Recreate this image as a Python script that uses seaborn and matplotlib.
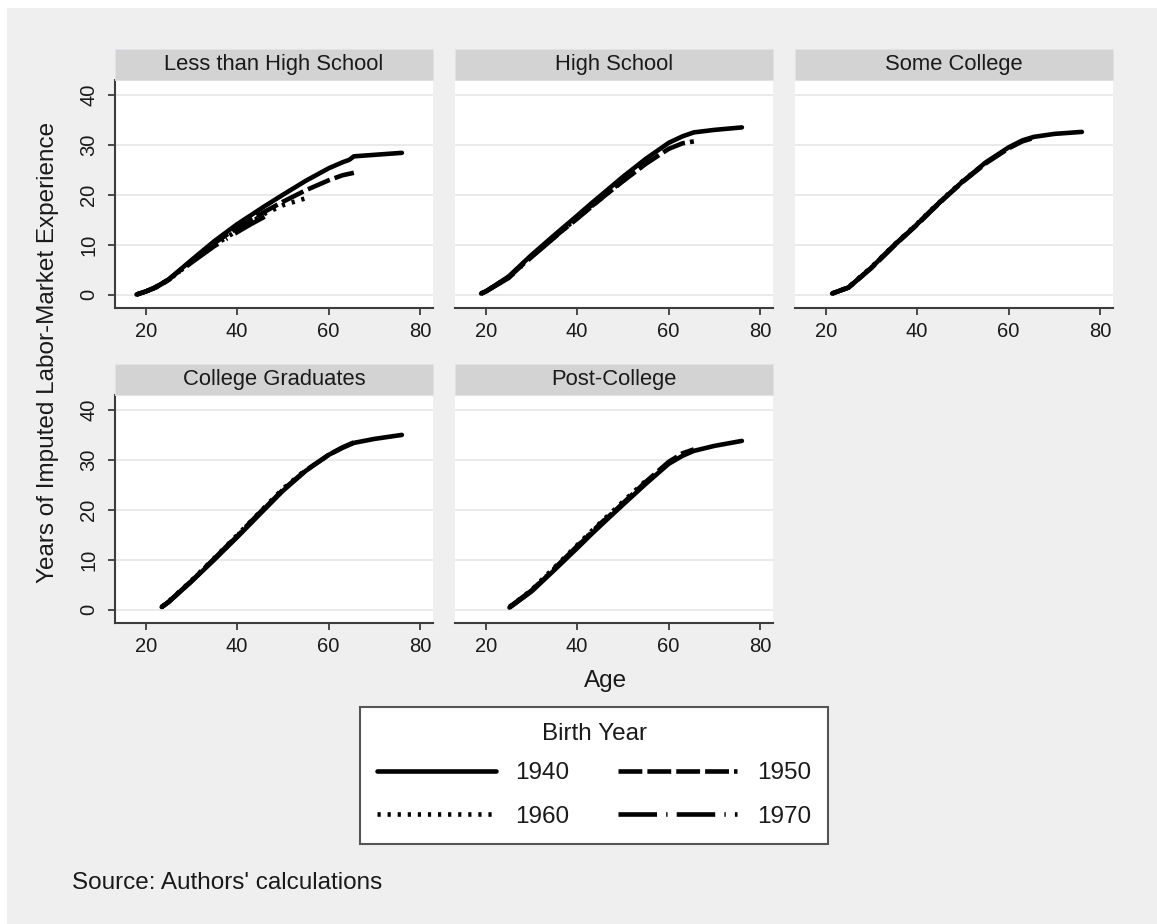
import pandas as pd
import matplotlib
matplotlib.use('Agg')
import matplotlib.pyplot as plt
from matplotlib.patches import Rectangle
from matplotlib.lines import Line2D
import seaborn as sns

# Panels and cohorts
panels = ['Less than High School', 'High School', 'Some College', 'College Graduates', 'Post-College']
cohorts = ['1940', '1950', '1960', '1970']

# Less than High School
ages_lths = [18, 20, 22, 25, 30, 35, 40, 43, 46, 50, 55, 60, 63, 64.5, 65.5, 70, 76]
lths_1940 = [0.0, 0.6, 1.4, 3.0, 6.9, 10.7, 14.1, 15.9, 17.7, 20.0, 22.8, 25.3, 26.5, 27.0, 27.7, 28.0, 28.4]
lths_1950 = [0.0, 0.6, 1.4, 3.0, 6.7, 10.3, 13.4, 15.0, 16.6, 18.6, 20.9, 22.9, 23.9, 24.2, 24.4]
lths_1960 = [0.0, 0.6, 1.3, 2.9, 6.5, 9.9, 12.8, 14.5, 16.2, 17.9, 19.3]
lths_1970 = [0.0, 0.6, 1.3, 2.9, 6.4, 9.7, 12.5, 14.1, 15.6]

# High School
ages_hs = [19, 20, 25, 30, 35, 40, 43, 46, 50, 55, 60, 63, 65.5, 70, 76]
hs_1940 = [0.2, 0.6, 3.6, 7.9, 11.9, 15.8, 18.2, 20.5, 23.6, 27.2, 30.4, 31.7, 32.5, 33.0, 33.5]
hs_1950 = [0.2, 0.6, 3.4, 7.6, 11.5, 15.2, 17.5, 19.8, 22.7, 26.2, 29.2, 30.3, 30.7]
hs_1960 = [0.2, 0.6, 3.5, 7.8, 11.6, 15.3, 17.6, 19.8, 22.9, 26.2]
hs_1970 = [0.2, 0.6, 3.3, 7.5, 11.4, 15.4, 17.8, 19.9]

# Some College
ages_sc = [21.4, 25, 30, 35, 40, 43, 46, 50, 55, 60, 63, 65.5, 70, 76]
sc_1940 = [0.2, 1.4, 5.4, 9.9, 14.1, 16.8, 19.4, 22.7, 26.5, 29.5, 30.9, 31.6, 32.2, 32.6]
sc_1950 = [0.2, 1.4, 5.3, 9.8, 14.0, 16.7, 19.3, 22.6, 26.3, 29.3, 30.7, 31.4]
sc_1960 = [0.2, 1.5, 5.5, 10.0, 14.2, 16.9, 19.5, 22.8, 26.4]
sc_1970 = [0.2, 1.4, 5.4, 9.9, 14.1, 16.8, 19.4]

# College Graduates
ages_cg = [23.5, 25, 30, 35, 40, 43, 46, 50, 55, 60, 63, 65.5, 70, 76]
cg_1940 = [0.5, 1.5, 5.6, 10.0, 14.5, 17.3, 20.1, 23.8, 27.8, 31.0, 32.4, 33.4, 34.2, 35.0]
cg_1950 = [0.5, 1.5, 5.7, 10.1, 14.7, 17.5, 20.3, 24.0, 27.9, 31.0, 32.5, 33.5]
cg_1960 = [0.5, 1.6, 5.8, 10.3, 14.9, 17.7, 20.5, 24.2, 28.0]
cg_1970 = [0.5, 1.5, 5.7, 10.2, 14.8, 17.6, 20.4]

# Post-College
ages_pc = [25.2, 30, 35, 40, 43, 46, 50, 55, 60, 63, 65.5, 70, 76]
pc_1940 = [0.4, 3.6, 7.9, 12.3, 15.0, 17.6, 21.0, 25.2, 29.2, 30.8, 31.8, 32.8, 33.8]
pc_1950 = [0.4, 3.7, 8.1, 12.6, 15.3, 17.9, 21.3, 25.6, 29.6, 31.3, 32.1]
pc_1960 = [0.5, 3.9, 8.4, 12.9, 15.6, 18.2, 21.6, 25.8]
pc_1970 = [0.5, 3.8, 8.2, 12.7, 15.4, 18.0]

x_ticks = [20, 40, 60, 80]
y_ticks = [0, 10, 20, 30, 40]

panel_data = {
    'Less than High School': (ages_lths, [lths_1940, lths_1950, lths_1960, lths_1970]),
    'High School': (ages_hs, [hs_1940, hs_1950, hs_1960, hs_1970]),
    'Some College': (ages_sc, [sc_1940, sc_1950, sc_1960, sc_1970]),
    'College Graduates': (ages_cg, [cg_1940, cg_1950, cg_1960, cg_1970]),
    'Post-College': (ages_pc, [pc_1940, pc_1950, pc_1960, pc_1970]),
}

rows = []
for edu, (ages, series) in panel_data.items():
    for cohort, vals in zip(cohorts, series):
        for a, v in zip(ages, vals):
            rows.append((edu, cohort, a, v))
df = pd.DataFrame(rows, columns=['edu', 'cohort', 'age', 'exp'])

sns.set_style('white')
plt.rcParams['font.family'] = ['Liberation Sans', 'DejaVu Sans']

W, H = 1157, 924
fig = plt.figure(figsize=(W / 100, H / 100), dpi=100, facecolor='white')
fig.patches.append(Rectangle((7 / W, 0), 1, 1 - 8 / H, transform=fig.transFigure,
                             facecolor='#efefef', edgecolor='none', zorder=-10))

dash_styles = {'1940': '', '1950': (5.2, 1.1), '1960': (0.7, 1.5), '1970': (8.4, 2.0, 0.3, 2.0)}
line_w = 3.3
spine_col = '#3c3c3c'
text_col = '#1a1a1a'

col_x = [115, 455, 795]
row_y = [80, 395]
pw, ph = 318, 228
strip_h = 31


def px_axes(x, y, w, h):
    return fig.add_axes([x / W, 1 - (y + h) / H, w / W, h / H])


for i, edu in enumerate(panels):
    r, c = divmod(i, 3)
    x0, y0 = col_x[c], row_y[r]
    ax = px_axes(x0, y0, pw, ph)
    sns.lineplot(data=df[df['edu'] == edu], x='age', y='exp', style='cohort',
                 style_order=cohorts, dashes=dash_styles, color='black',
                 linewidth=line_w, estimator=None, errorbar=None, legend=False, ax=ax)
    ax.set_xlim(13.3, 82.8)
    ax.set_ylim(-2.7, 43)
    ax.set_xticks(x_ticks)
    ax.set_yticks(y_ticks)
    ax.set_facecolor('white')
    ax.grid(axis='y', color='#e8e8e8', linewidth=1.3)
    ax.grid(axis='x', visible=False)
    ax.set_axisbelow(True)
    ax.set_xlabel('')
    ax.set_ylabel('')
    for s in ['top', 'right']:
        ax.spines[s].set_visible(False)
    ax.spines['bottom'].set_color(spine_col)
    ax.spines['bottom'].set_linewidth(1.5)
    ax.tick_params(axis='x', bottom=True, length=5, width=1.3, color=spine_col,
                   labelsize=14.5, labelcolor=text_col, pad=5)
    if c == 0:
        ax.spines['left'].set_color(spine_col)
        ax.spines['left'].set_linewidth(1.5)
        ax.tick_params(axis='y', left=True, length=5, width=1.3, color=spine_col,
                       labelsize=14.5, labelcolor=text_col, pad=7)
        for lab in ax.get_yticklabels():
            lab.set_rotation(90)
            lab.set_va('center')
    else:
        ax.spines['left'].set_visible(False)
        ax.tick_params(axis='y', left=False, labelleft=False)
    # strip header
    fig.patches.append(Rectangle((x0 / W, 1 - y0 / H), pw / W, strip_h / H,
                                 transform=fig.transFigure, facecolor='#d3d3d3',
                                 edgecolor='#dde3e6', linewidth=0.8, zorder=1))
    fig.text((x0 + pw / 2) / W, 1 - (y0 - strip_h / 2) / H, edu, ha='center', va='center',
             fontsize=15.8, color=text_col, zorder=2)

fig.text(48 / W, 1 - 352 / H, 'Years of Imputed Labor-Market Experience', rotation=90,
         ha='center', va='center', fontsize=17.5, color=text_col)
fig.text(606 / W, 1 - 681 / H, 'Age', ha='center', va='center', fontsize=17.5, color=text_col)
fig.text(72 / W, 1 - 883 / H, "Source: Authors' calculations", ha='left', va='center',
         fontsize=17.5, color=text_col)

leg_order = ['1940', '1960', '1950', '1970']
handles = [Line2D([0], [0], color='black', linewidth=line_w,
                  dashes=dash_styles[k] if dash_styles[k] else (None, None))
           for k in leg_order]
leg = fig.legend(handles, leg_order, ncol=2, title='Birth Year',
                 loc='center', bbox_to_anchor=(594 / W, 1 - 775.5 / H), fontsize=17.5,
                 title_fontsize=17.5, handlelength=4.9, handletextpad=0.82, columnspacing=2.0,
                 labelspacing=0.9, borderpad=0.68, frameon=True, fancybox=False, framealpha=1)
leg._legend_box.sep = 0.7 * 17.5
leg.get_frame().set_edgecolor('#555555')
leg.get_frame().set_linewidth(1.5)
leg.get_frame().set_facecolor('white')
for t in leg.get_texts():
    t.set_color(text_col)
leg.get_title().set_color(text_col)

fig.savefig('out.png', dpi=100, facecolor=fig.get_facecolor())
